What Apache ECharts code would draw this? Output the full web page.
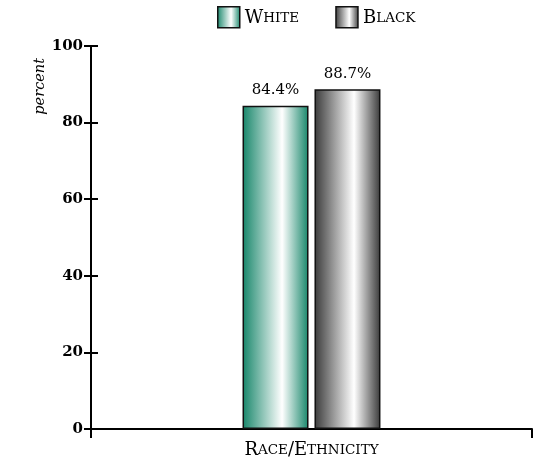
<!DOCTYPE html>
<html>
<head>
<meta charset="utf-8">
<script src="https://cdn.jsdelivr.net/npm/echarts@6/dist/echarts.min.js"></script>
<style>
  html, body { margin: 0; padding: 0; background: #fff; }
  #main { width: 534px; height: 461px; }
</style>
</head>
<body>
<div id="main"></div>
<script>
var categories = ['Race/Ethnicity'];
var seriesNames = ['White', 'Black'];
var whiteValues = [84.4];
var blackValues = [88.7];
var yTicks = [0, 20, 40, 60, 80, 100];

var serif = '"DejaVu Serif", "Liberation Serif", serif';

function grad(edge) {
  return new echarts.graphic.LinearGradient(0, 0, 1, 0, [
    { offset: 0, color: edge },
    { offset: 0.6, color: '#ffffff' },
    { offset: 1, color: edge }
  ]);
}

// small caps: first letter big, the rest smaller upper case
function smallCaps(s) {
  return s.split(/(\/)/).map(function (part) {
    if (part === '/') return '{b|/}';
    return '{b|' + part.charAt(0).toUpperCase() + '}{s|' + part.slice(1).toUpperCase() + '}';
  }).join('');
}

var capsRich = {
  b: { fontFamily: serif, fontSize: 18, color: '#000' },
  s: { fontFamily: serif, fontSize: 13.5, color: '#000' }
};

var myChart = echarts.init(document.getElementById('main'));

var labelStyle = {
  show: true,
  position: 'top',
  distance: 8,
  fontFamily: serif,
  fontSize: 15,
  color: '#000',
  formatter: function (p) { return p.value.toFixed(1) + '%'; }
};

// same scale on both y axes; the second one only draws the inner half of the ticks
var yBase = {
  type: 'value',
  min: yTicks[0],
  max: yTicks[yTicks.length - 1],
  interval: 20,
  splitLine: { show: false }
};

myChart.setOption({
  animation: false,
  grid: { left: 91, right: 2, top: 46, bottom: 32 },
  legend: {
    top: 6,
    left: 217,
    padding: 0,
    icon: 'rect',
    itemWidth: 22,
    itemHeight: 21,
    itemGap: 36,
    itemTextGap: 3,
    data: seriesNames,
    formatter: function (name) { return smallCaps(name); },
    itemStyle: { borderColor: '#111', borderWidth: 1.5 },
    textStyle: { rich: capsRich, padding: [3, 0, 0, 0] }
  },
  graphic: [{
    type: 'text',
    left: 33,
    top: 58,
    rotation: Math.PI / 2,
    style: {
      text: 'percent',
      fontFamily: serif,
      fontStyle: 'italic',
      fontSize: 14.5,
      fill: '#000'
    }
  }],
  xAxis: {
    type: 'category',
    data: categories,
    axisLine: { lineStyle: { color: '#000', width: 2 } },
    axisTick: { show: true, length: 9, lineStyle: { color: '#000', width: 2 } },
    axisLabel: {
      margin: 12,
      formatter: function (v) { return smallCaps(v); },
      rich: capsRich
    }
  },
  yAxis: [
    Object.assign({}, yBase, {
      axisLine: { show: true, lineStyle: { color: '#000', width: 2 } },
      axisTick: { show: true, length: 7, lineStyle: { color: '#000', width: 2 } },
      axisLabel: {
        margin: 8,
        fontFamily: serif,
        fontSize: 15,
        fontWeight: 'bold',
        color: '#000'
      }
    }),
    Object.assign({}, yBase, {
      position: 'left',
      axisLine: { show: false },
      axisTick: { show: true, inside: true, length: 7, lineStyle: { color: '#000', width: 2 } },
      axisLabel: { show: false }
    })
  ],
  series: [
    {
      name: seriesNames[0],
      type: 'bar',
      data: whiteValues,
      barWidth: 66,
      barGap: '9%',
      itemStyle: { color: grad('#17866a'), borderColor: '#111', borderWidth: 1.5 },
      label: labelStyle
    },
    {
      name: seriesNames[1],
      type: 'bar',
      data: blackValues,
      barWidth: 66,
      itemStyle: { color: grad('#3a3a3a'), borderColor: '#111', borderWidth: 1.5 },
      label: labelStyle
    }
  ]
});
</script>
</body>
</html>
